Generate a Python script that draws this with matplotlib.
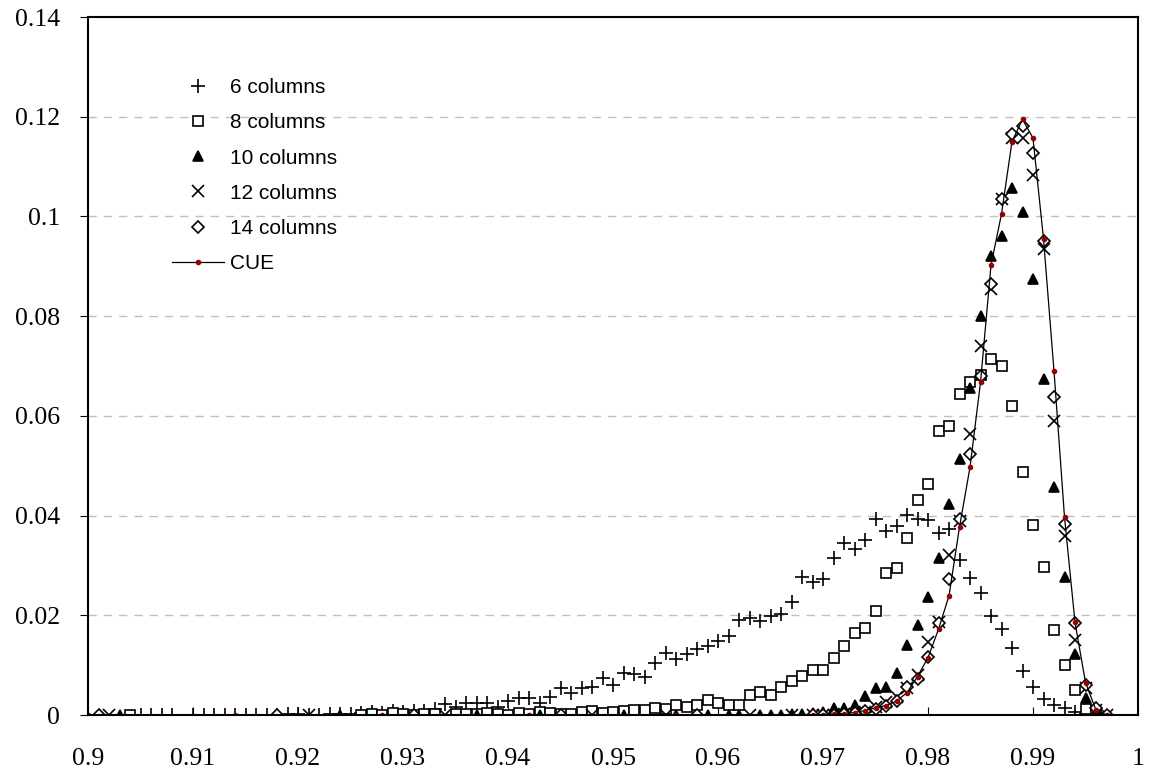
import matplotlib
matplotlib.use("Agg")
import matplotlib.pyplot as plt
from matplotlib.ticker import FuncFormatter

# 6 columns (+)
x6 = [0.905, 0.906, 0.907, 0.908, 0.910, 0.911, 0.912, 0.913, 0.914, 0.915, 0.916, 0.917,
      0.918, 0.919, 0.920, 0.921, 0.922, 0.923, 0.924, 0.925, 0.926, 0.927, 0.928, 0.929,
      0.930, 0.931, 0.932, 0.933, 0.934, 0.935, 0.936, 0.937, 0.938, 0.939, 0.940, 0.941,
      0.942, 0.943, 0.944, 0.945, 0.946, 0.947, 0.948, 0.949, 0.950, 0.951, 0.952, 0.953,
      0.954, 0.955, 0.956, 0.957, 0.958, 0.959, 0.960, 0.961, 0.962, 0.963, 0.964, 0.965,
      0.966, 0.967, 0.968, 0.969, 0.970, 0.971, 0.972, 0.973, 0.974, 0.975, 0.976, 0.977,
      0.978, 0.979, 0.980, 0.981, 0.982, 0.983, 0.984, 0.985, 0.986, 0.987, 0.988, 0.989,
      0.990, 0.991, 0.992, 0.993, 0.994, 0.995, 0.996]
y6 = [0.0, 0.0, 0.0, 0.0001, 0.0001, 0.0, 0.0, 0.0, 0.0, 0.0, 0.0, 0.0,
      0.0001, 0.0002, 0.0003, 0.0, 0.0001, 0.0002, 0.0002, 0.0003, 0.0004, 0.0006, 0.0004, 0.0008,
      0.0006, 0.0009, 0.0008, 0.0012, 0.0022, 0.0016, 0.0024, 0.0024, 0.0024, 0.0016, 0.0028, 0.0034,
      0.0034, 0.0024, 0.0036, 0.0054, 0.0044, 0.0054, 0.0056, 0.0074, 0.0060, 0.0085, 0.0082, 0.0076,
      0.0105, 0.0125, 0.0112, 0.0122, 0.0132, 0.0138, 0.0148, 0.0158, 0.0190, 0.0194, 0.0188, 0.0198,
      0.0202, 0.0226, 0.0276, 0.0266, 0.0272, 0.0314, 0.0344, 0.0332, 0.0352, 0.0394, 0.0370, 0.0380,
      0.0402, 0.0394, 0.0392, 0.0366, 0.0374, 0.0310, 0.0274, 0.0244, 0.0198, 0.0172, 0.0134, 0.0088,
      0.0056, 0.0032, 0.0020, 0.0014, 0.0006, 0.0002, 0.0]

# 8 columns (open squares)
x8 = [0.904, 0.926, 0.927, 0.928, 0.929, 0.930, 0.931, 0.932, 0.933, 0.935, 0.936, 0.937,
      0.938, 0.939, 0.940, 0.941, 0.942, 0.943, 0.944, 0.945, 0.946, 0.947, 0.948, 0.949,
      0.950, 0.951, 0.952, 0.953, 0.954, 0.955, 0.956, 0.957, 0.958, 0.959, 0.960, 0.961,
      0.962, 0.963, 0.964, 0.965, 0.966, 0.967, 0.968, 0.969, 0.970, 0.971, 0.972, 0.973,
      0.974, 0.975, 0.976, 0.977, 0.978, 0.979, 0.980, 0.981, 0.982, 0.983, 0.984, 0.985,
      0.986, 0.987, 0.988, 0.989, 0.990, 0.991, 0.992, 0.993, 0.994, 0.995, 0.996]
y8 = [0.0, 0.0001, 0.0002, 0.0001, 0.0004, 0.0002, 0.0001, 0.0003, 0.0002, 0.0003, 0.0002, 0.0003,
      0.0004, 0.0002, 0.0001, 0.0004, 0.0003, 0.0006, 0.0004, 0.0002, 0.0003, 0.0006, 0.0008, 0.0004,
      0.0006, 0.0008, 0.0010, 0.0010, 0.0014, 0.0012, 0.0020, 0.0016, 0.0020, 0.0030, 0.0024, 0.0020,
      0.0020, 0.0040, 0.0046, 0.0040, 0.0056, 0.0068, 0.0078, 0.0090, 0.0090, 0.0114, 0.0138, 0.0164,
      0.0174, 0.0208, 0.0284, 0.0294, 0.0356, 0.0432, 0.0464, 0.0570, 0.0580, 0.0644, 0.0668, 0.0682,
      0.0714, 0.0700, 0.0620, 0.0488, 0.0382, 0.0296, 0.0170, 0.0100, 0.0050, 0.0012, 0.0003]

# 10 columns (filled triangles)
x10 = [0.903, 0.924, 0.937, 0.943, 0.951, 0.956, 0.959, 0.961, 0.962, 0.964, 0.965, 0.966,
       0.967, 0.968, 0.969, 0.970, 0.971, 0.972, 0.973, 0.974, 0.975, 0.976, 0.977, 0.978,
       0.979, 0.980, 0.981, 0.982, 0.983, 0.984, 0.985, 0.986, 0.987, 0.988, 0.989, 0.990,
       0.991, 0.992, 0.993, 0.994, 0.995, 0.996]
y10 = [0.0, 0.0, 0.0, 0.0, 0.0, 0.0, 0.0, 0.0, 0.0, 0.0, 0.0, 0.0,
       0.0002, 0.0003, 0.0004, 0.0006, 0.0014, 0.0014, 0.0020, 0.0038, 0.0054, 0.0056, 0.0084, 0.0140,
       0.0180, 0.0236, 0.0314, 0.0424, 0.0514, 0.0656, 0.0800, 0.0920, 0.0960, 0.1058, 0.1008, 0.0874,
       0.0674, 0.0458, 0.0276, 0.0122, 0.0034, 0.0006]

# 12 columns (x)
x12 = [0.902, 0.921, 0.934, 0.948, 0.955, 0.963, 0.967, 0.969, 0.970, 0.971, 0.972, 0.973,
       0.974, 0.975, 0.976, 0.977, 0.978, 0.979, 0.980, 0.981, 0.982, 0.983, 0.984, 0.985,
       0.986, 0.987, 0.988, 0.989, 0.990, 0.991, 0.992, 0.993, 0.994, 0.995, 0.996, 0.997]
y12 = [0.0, 0.0, 0.0, 0.0, 0.0, 0.0, 0.0, 0.0, 0.0, 0.0, 0.0002, 0.0003,
       0.0006, 0.0016, 0.0026, 0.0036, 0.0054, 0.0080, 0.0146, 0.0186, 0.0320, 0.0390, 0.0564, 0.0740,
       0.0854, 0.1034, 0.1158, 0.1158, 0.1084, 0.0934, 0.0590, 0.0360, 0.0150, 0.0055, 0.0010, 0.0]

# 14 columns (open diamonds)
x14 = [0.901, 0.918, 0.931, 0.945, 0.958, 0.969, 0.970, 0.971, 0.972, 0.973, 0.974, 0.975,
       0.976, 0.977, 0.978, 0.979, 0.980, 0.981, 0.982, 0.983, 0.984, 0.985, 0.986, 0.987,
       0.988, 0.989, 0.990, 0.991, 0.992, 0.993, 0.994, 0.995, 0.996, 0.997]
y14 = [0.0, 0.0, 0.0, 0.0, 0.0, 0.0, 0.0, 0.0001, 0.0002, 0.0004, 0.0008, 0.0012,
       0.0018, 0.0028, 0.0056, 0.0072, 0.0116, 0.0184, 0.0272, 0.0394, 0.0524, 0.0680, 0.0864, 0.1034,
       0.1166, 0.1182, 0.1128, 0.0950, 0.0638, 0.0384, 0.0184, 0.0060, 0.0015, 0.0]

# CUE (line with small dots)
x_cue = [0.900, 0.914, 0.928, 0.942, 0.956, 0.969, 0.970, 0.971, 0.972, 0.973, 0.974, 0.975,
         0.976, 0.977, 0.978, 0.979, 0.980, 0.981, 0.982, 0.983, 0.984, 0.985, 0.986, 0.987,
         0.988, 0.989, 0.990, 0.991, 0.992, 0.993, 0.994, 0.995, 0.996, 0.997]
y_cue = [0.0, 0.0, 0.0, 0.0, 0.0, 0.0, 0.0001, 0.0002, 0.0003, 0.0005, 0.0009, 0.0014,
         0.0019, 0.0028, 0.0045, 0.0077, 0.0115, 0.0172, 0.0239, 0.0377, 0.0497, 0.0667, 0.0902, 0.1005,
         0.1150, 0.1195, 0.1157, 0.0955, 0.0690, 0.0397, 0.0186, 0.0065, 0.0010, 0.0]

x_ticks = [0.9, 0.91, 0.92, 0.93, 0.94, 0.95, 0.96, 0.97, 0.98, 0.99, 1.0]
y_ticks = [0, 0.02, 0.04, 0.06, 0.08, 0.1, 0.12, 0.14]

fig = plt.figure(figsize=(11.51, 7.74), dpi=100)
ax = fig.add_axes([88 / 1151, 59 / 774, 1050 / 1151, 698 / 774])

mk = dict(linestyle='none', color='black', markeredgewidth=1.2)
ax.plot(x6, y6, marker='+', markersize=10, label='6 columns', **mk)
ax.plot(x8, y8, marker='s', markersize=7.5, markerfacecolor='white', label='8 columns', **mk)
ax.plot(x10, y10, marker='^', markersize=6.5, label='10 columns', **mk)
ax.plot(x12, y12, marker='x', markersize=8.5, label='12 columns', **mk)
ax.plot(x14, y14, marker='D', markersize=6, markerfacecolor='white', label='14 columns', **mk)
ax.plot(x_cue, y_cue, color='black', linewidth=0.9, marker='o', markersize=3,
        markerfacecolor='#990000', markeredgecolor='#990000', label='CUE')

ax.set_xlim(0.9, 1.0)
ax.set_ylim(0, 0.14)
ax.set_xticks(x_ticks)
ax.set_yticks(y_ticks)
fmt = FuncFormatter(lambda v, p: '%g' % round(v, 4))
ax.xaxis.set_major_formatter(fmt)
ax.yaxis.set_major_formatter(fmt)
for lab in ax.get_xticklabels() + ax.get_yticklabels():
    lab.set_fontfamily('Liberation Serif')
    lab.set_fontsize(18.5)
ax.tick_params(axis='x', direction='in', length=6, pad=24, top=False)
ax.tick_params(axis='y', direction='out', length=6, pad=14, right=False)

for v in y_ticks[1:-1]:
    ax.axhline(v, color='#c0c0c0', linestyle=(0, (6, 5)), linewidth=1, zorder=0)

for s in ax.spines.values():
    s.set_linewidth(1.5)
    s.set_color('black')

leg = ax.legend(loc='upper left', bbox_to_anchor=(172 / 1151, 1 - 78 / 774),
                bbox_transform=fig.transFigure, frameon=False,
                prop={'family': 'Liberation Sans', 'size': 15},
                handlelength=2.5, handletextpad=0.3, labelspacing=0.78, borderpad=0,
                borderaxespad=0)

fig.savefig('out.png', dpi=100)
